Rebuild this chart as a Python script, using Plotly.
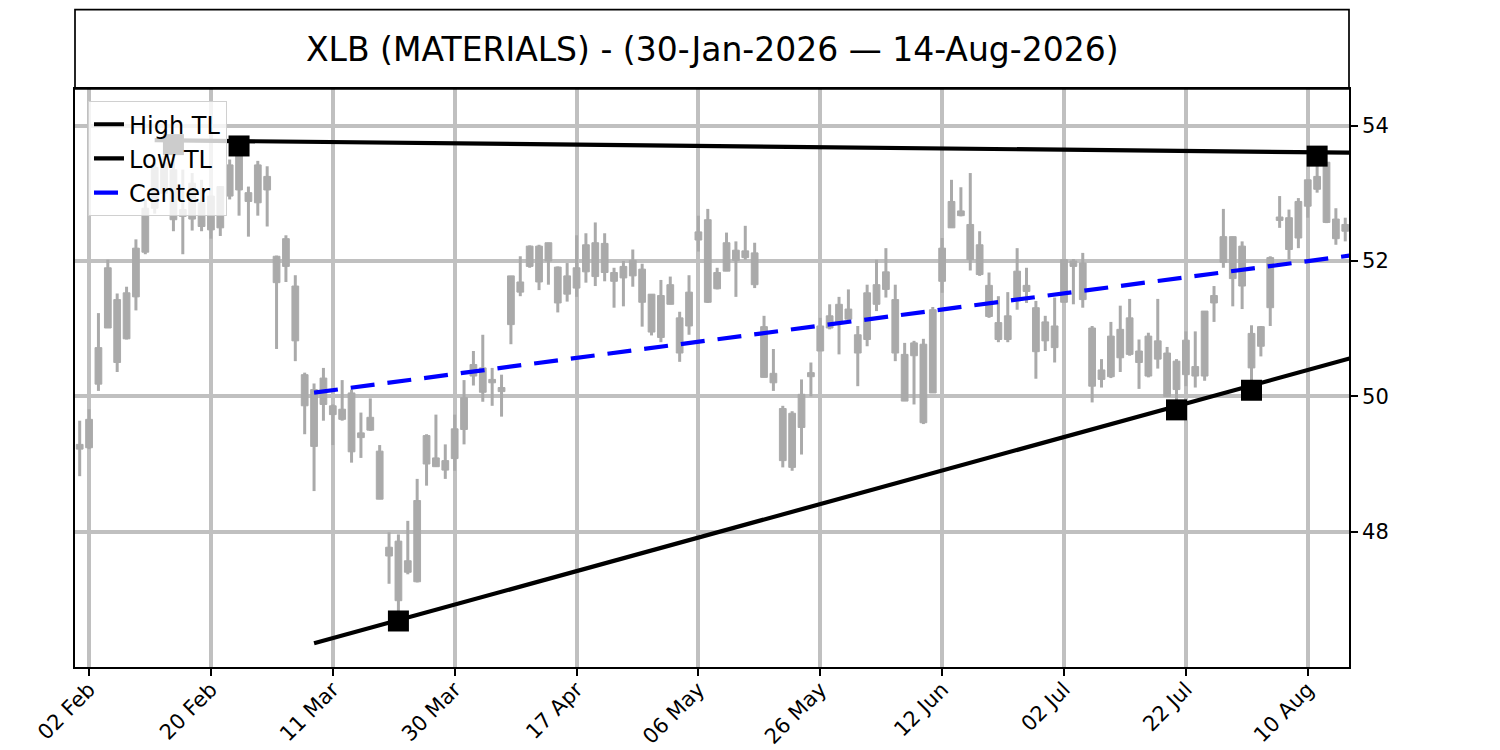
import plotly.graph_objects as go
import numpy as np

# XLB daily candles, 30-Jan-2026 .. 14-Aug-2026 (136 trading days, x = day index)
opens = [49.22, 49.24, 50.18, 51.01, 51.43, 50.85, 51.47, 52.13, 52.78, 53.00,
         53.35, 52.76, 52.62, 52.86, 52.46, 52.49, 52.96, 53.05, 53.01, 52.86,
         53.05, 52.07, 51.92, 51.63, 50.32, 50.10, 49.88, 49.86, 49.81, 50.05,
         49.46, 49.50, 49.19, 47.77, 47.86, 47.40, 47.26, 49.00, 49.09, 49.05,
         49.08, 49.51, 50.30, 50.42, 50.25, 50.13, 51.06, 51.54, 51.92, 52.22,
         52.00, 51.91, 51.51, 51.60, 51.84, 52.27, 51.83, 51.83, 51.75, 51.78,
         51.88, 51.51, 51.49, 51.36, 51.16, 51.04, 52.31, 52.61, 51.83, 51.85,
         52.01, 52.05, 52.12, 51.03, 50.34, 49.82, 49.75, 49.54, 50.29, 50.67,
         51.01, 51.09, 51.29, 50.91, 50.84, 51.36, 51.58, 51.43, 50.62, 50.60,
         50.77, 50.05, 51.70, 52.49, 52.67, 52.54, 52.24, 51.64, 51.09, 50.84,
         51.41, 51.64, 51.31, 51.10, 51.04, 51.39, 51.92, 51.97, 51.01, 50.39,
         50.29, 50.57, 50.62, 50.67, 50.30, 50.55, 50.64, 50.52, 50.32, 50.44,
         50.30, 51.38, 51.98, 52.36, 52.22, 50.93, 50.74, 51.31, 52.60, 52.64,
         52.34, 52.81, 53.06, 53.46, 52.62, 52.44]
highs = [49.64, 49.81, 51.23, 52.02, 51.52, 51.62, 52.32, 52.90, 53.45, 53.55,
         53.72, 53.35, 53.30, 53.20, 52.96, 53.10, 53.50, 53.70, 53.10, 53.48,
         53.40, 52.08, 52.38, 51.79, 50.35, 50.19, 50.42, 49.88, 50.24, 50.10,
         49.76, 49.97, 49.28, 47.99, 47.96, 48.16, 48.78, 49.44, 49.73, 49.29,
         49.73, 50.24, 50.67, 50.91, 50.42, 50.32, 51.78, 52.07, 52.23, 52.24,
         52.27, 51.92, 51.97, 52.38, 52.41, 52.57, 52.41, 51.90, 52.00, 52.17,
         51.96, 51.51, 51.72, 51.77, 51.25, 51.79, 52.67, 52.77, 51.90, 52.42,
         52.29, 52.52, 52.27, 51.19, 50.70, 49.86, 49.78, 50.25, 50.50, 51.16,
         51.36, 51.47, 51.58, 51.04, 51.65, 52.02, 52.19, 51.65, 50.79, 50.82,
         50.85, 51.32, 52.34, 53.20, 53.09, 53.30, 52.44, 51.83, 51.48, 51.54,
         52.19, 51.90, 51.41, 51.19, 51.46, 52.02, 52.03, 52.12, 51.04, 50.55,
         51.10, 51.34, 51.44, 50.84, 50.94, 51.44, 50.73, 50.55, 50.96, 50.96,
         51.26, 51.63, 52.77, 52.36, 52.29, 51.05, 51.04, 52.07, 52.96, 52.76,
         52.93, 53.20, 53.55, 53.46, 52.78, 52.64]
lows = [48.82, 49.22, 50.08, 51.01, 50.36, 50.84, 51.27, 52.10, 52.70, 52.88,
        52.44, 52.10, 52.45, 52.44, 52.33, 52.37, 52.91, 52.67, 52.36, 52.67,
        52.51, 50.70, 51.69, 50.52, 49.44, 48.60, 49.64, 49.28, 49.64, 49.02,
        49.09, 49.49, 48.48, 47.23, 46.70, 47.37, 47.25, 48.68, 48.96, 48.78,
        48.90, 49.29, 50.16, 49.92, 49.86, 49.70, 50.77, 51.48, 51.90, 51.57,
        51.65, 51.24, 51.40, 51.47, 51.68, 51.63, 51.70, 51.31, 51.33, 51.62,
        51.03, 50.90, 50.80, 51.36, 50.51, 50.91, 52.14, 51.38, 51.58, 51.85,
        51.47, 52.02, 51.60, 50.28, 50.08, 48.95, 48.90, 49.14, 50.00, 50.67,
        50.99, 50.62, 51.11, 50.15, 50.74, 51.26, 51.46, 50.52, 49.93, 49.88,
        49.59, 50.05, 51.53, 52.49, 52.66, 51.86, 51.78, 51.16, 50.80, 50.80,
        51.28, 51.38, 50.26, 50.67, 50.50, 51.39, 51.36, 51.31, 49.91, 50.13,
        50.27, 50.36, 50.60, 50.11, 50.28, 50.41, 50.00, 49.80, 50.15, 50.13,
        50.23, 51.10, 51.90, 51.33, 51.29, 50.10, 50.59, 51.04, 52.49, 52.02,
        52.19, 52.64, 53.01, 52.56, 52.24, 52.29]
closes = [49.29, 49.66, 50.72, 51.90, 50.50, 51.53, 52.19, 52.78, 53.38, 53.45,
          52.61, 52.66, 53.15, 52.51, 52.96, 53.10, 53.42, 53.57, 52.88, 53.42,
          53.25, 51.68, 52.33, 50.82, 49.86, 49.26, 50.27, 49.73, 49.66, 49.18,
          49.39, 49.69, 48.48, 47.64, 46.98, 47.57, 48.46, 49.42, 48.96, 48.91,
          49.52, 49.98, 50.47, 50.06, 50.20, 50.07, 51.78, 51.69, 52.22, 51.69,
          52.27, 51.38, 51.78, 51.90, 52.24, 51.77, 52.26, 51.70, 51.92, 52.01,
          51.39, 50.95, 50.87, 51.65, 50.64, 51.54, 52.43, 51.39, 51.59, 52.27,
          52.16, 52.15, 51.65, 50.28, 50.20, 49.05, 48.95, 50.03, 50.35, 51.04,
          51.19, 51.36, 51.14, 50.64, 51.53, 51.65, 51.84, 50.64, 49.93, 50.79,
          49.61, 51.28, 52.19, 52.88, 52.74, 52.02, 51.80, 51.18, 50.84, 51.19,
          51.85, 51.55, 50.66, 50.82, 50.72, 52.02, 52.00, 51.43, 50.15, 50.25,
          50.89, 50.99, 51.16, 50.50, 50.89, 50.82, 50.00, 50.10, 50.83, 50.30,
          51.26, 51.49, 52.36, 51.74, 51.63, 50.42, 51.03, 52.05, 52.65, 52.17,
          52.88, 53.20, 53.25, 52.57, 52.33, 52.54]

tick_pos = [1, 14, 27, 40, 53, 66, 79, 92, 105, 118, 131]
tick_labels = ["02 Feb", "20 Feb", "11 Mar", "30 Mar", "17 Apr", "06 May",
               "26 May", "12 Jun", "02 Jul", "22 Jul", "10 Aug"]

# trendlines (day index, price)
high_tl_x = [8, 136]
high_tl_y = [53.785, 53.60]
low_tl_x = [25, 136]
low_tl_y = [46.35, 50.58]
center_x = [25, 136]
center_y = [50.055, 52.09]
high_piv_x = [10, 17, 132]
high_piv_y = [53.72, 53.70, 53.55]
low_piv_x = [34, 117, 125]
low_piv_y = [46.68, 49.80, 50.09]

o = np.array(opens)
c = np.array(closes)
h = np.array(highs)
l = np.array(lows)
idx = np.arange(len(opens))
candle = '#aaaaaa'
font = 'DejaVu Sans'

fig = go.Figure()
# wicks
fig.add_trace(go.Bar(x=idx, y=h - l, base=l, width=0.32,
                     marker=dict(color=candle, line=dict(width=0)),
                     showlegend=False, hoverinfo='skip'))
# bodies
fig.add_trace(go.Bar(x=idx, y=np.abs(c - o), base=np.minimum(o, c), width=0.72,
                     marker=dict(color=candle, line=dict(color=candle, width=1)),
                     showlegend=False,
                     customdata=np.stack([o, h, l, c], axis=1),
                     hovertemplate='O %{customdata[0]}<br>H %{customdata[1]}<br>'
                                   'L %{customdata[2]}<br>C %{customdata[3]}<extra></extra>'))

fig.add_trace(go.Scatter(x=high_tl_x, y=high_tl_y, mode='lines', name='High TL',
                         line=dict(color='black', width=4.2)))
fig.add_trace(go.Scatter(x=low_tl_x, y=low_tl_y, mode='lines', name='Low TL',
                         line=dict(color='black', width=4.2)))
fig.add_trace(go.Scatter(x=center_x, y=center_y, mode='lines', name='Center',
                         line=dict(color='#0000ff', width=4.2, dash='24px,13px')))
fig.add_trace(go.Scatter(x=high_piv_x + low_piv_x, y=high_piv_y + low_piv_y,
                         mode='markers', showlegend=False,
                         marker=dict(symbol='square', size=21, color='black')))

axis_style = dict(showline=True, mirror=True, linecolor='black', linewidth=1.7,
                  ticks='outside', ticklen=7, tickwidth=1.7, tickcolor='black',
                  showgrid=True, gridcolor='#c0c0c0', gridwidth=4.2, zeroline=False,
                  automargin=False,
                  tickfont=dict(family=font, size=21, color='black'))

fig.update_layout(
    width=1500, height=750,
    margin=dict(l=75, r=151, t=89, b=83),
    plot_bgcolor='white', paper_bgcolor='white',
    barmode='overlay',
    font=dict(family=font, color='black'),
    xaxis=dict(range=[-0.5, 135.4], tickvals=tick_pos, ticktext=tick_labels,
               tickangle=-45, ticklabelstandoff=-7, **axis_style),
    yaxis=dict(range=[46.0, 54.542], side='right', tickvals=[48, 50, 52, 54],
               **axis_style),
    legend=dict(x=0.0102, y=0.979, xanchor='left', yanchor='top',
                bgcolor='rgba(255,255,255,0.8)', bordercolor='#d0d0d0',
                borderwidth=1, font=dict(family=font, size=24, color='black'),
                tracegroupgap=0),
    showlegend=True,
)

# title box above the plot
fig.add_shape(type='rect', xref='paper', yref='paper', x0=0, x1=1, y0=1, y1=1.1372,
              line=dict(color='black', width=1.7))
fig.add_annotation(xref='paper', yref='paper', x=0.5, y=1.068, showarrow=False,
                   xanchor='center', yanchor='middle',
                   text='XLB (MATERIALS) - (30-Jan-2026 \u2014 14-Aug-2026)',
                   font=dict(family=font, size=33, color='black'))

# drop the page's default body margin so the figure sits at the window origin
fig.write_html("out.html", config={'displayModeBar': False},
               post_script="document.body.style.margin = '0';")
